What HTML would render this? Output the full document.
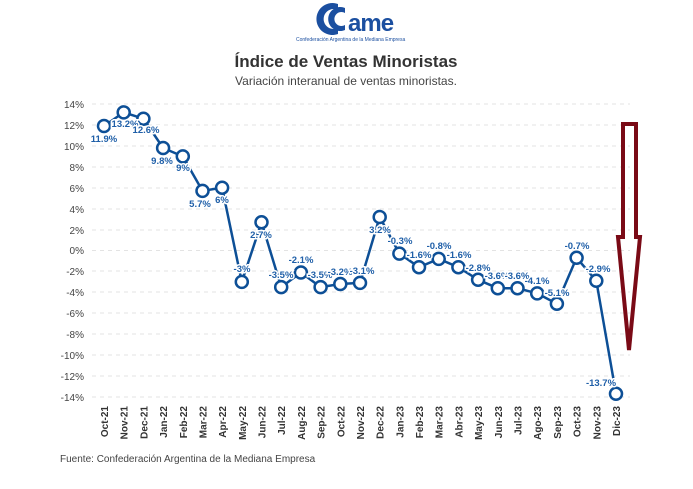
<!DOCTYPE html>
<html><head><meta charset="utf-8"><style>
body{margin:0;background:#fff;width:693px;height:484px;overflow:hidden;font-family:"Liberation Sans",sans-serif}
svg text{font-family:"Liberation Sans",sans-serif}
</style></head><body>
<svg width="693" height="484" viewBox="0 0 693 484" xmlns="http://www.w3.org/2000/svg">
<!-- logo -->
<g fill="#1b4fa0">
<path d="M338,4 a16,16 0 1 0 0,30 l0,-6 a10,10 0 1 1 0,-18 z"/>
<path d="M345,8 a12,12 0 1 0 0,22 l0,-5 a7,7 0 1 1 0,-12 z"/>
<text x="348" y="31" font-size="24" font-weight="bold" letter-spacing="-1">ame</text>
<text x="296" y="41" font-size="5">Confederación Argentina de la Mediana Empresa</text>
</g>
<text x="346" y="67" text-anchor="middle" font-size="17" font-weight="bold" fill="#333">Índice de Ventas Minoristas</text>
<text x="346" y="85" text-anchor="middle" font-size="12" fill="#444">Variación interanual de ventas minoristas.</text>
<!-- grid -->
<g stroke="#e3e3e3" stroke-dasharray="4,4">
<line x1="92" x2="630" y1="104" y2="104"/><line x1="92" x2="630" y1="125" y2="125"/><line x1="92" x2="630" y1="146" y2="146"/><line x1="92" x2="630" y1="167" y2="167"/><line x1="92" x2="630" y1="188" y2="188"/><line x1="92" x2="630" y1="209" y2="209"/><line x1="92" x2="630" y1="230" y2="230"/><line x1="92" x2="630" y1="250.5" y2="250.5"/><line x1="92" x2="630" y1="271" y2="271"/><line x1="92" x2="630" y1="292" y2="292"/><line x1="92" x2="630" y1="313" y2="313"/><line x1="92" x2="630" y1="334" y2="334"/><line x1="92" x2="630" y1="355" y2="355"/><line x1="92" x2="630" y1="376" y2="376"/><line x1="92" x2="630" y1="397" y2="397"/>
</g>
<g font-size="10" fill="#444" text-anchor="end">
<text x="84" y="108">14%</text><text x="84" y="129">12%</text><text x="84" y="150">10%</text><text x="84" y="171">8%</text><text x="84" y="192">6%</text><text x="84" y="213">4%</text><text x="84" y="234">2%</text><text x="84" y="254">0%</text><text x="84" y="275">-2%</text><text x="84" y="296">-4%</text><text x="84" y="317">-6%</text><text x="84" y="338">-8%</text><text x="84" y="359">-10%</text><text x="84" y="380">-12%</text><text x="84" y="401">-14%</text>
</g>
<g font-size="10" font-weight="bold" fill="#333" text-anchor="end">
<text transform="translate(108,406) rotate(-90)">Oct-21</text>
<text transform="translate(127.7,406) rotate(-90)">Nov-21</text>
<text transform="translate(147.4,406) rotate(-90)">Dec-21</text>
<text transform="translate(167.1,406) rotate(-90)">Jan-22</text>
<text transform="translate(186.8,406) rotate(-90)">Feb-22</text>
<text transform="translate(206.5,406) rotate(-90)">Mar-22</text>
<text transform="translate(226.1,406) rotate(-90)">Apr-22</text>
<text transform="translate(245.8,406) rotate(-90)">May-22</text>
<text transform="translate(265.5,406) rotate(-90)">Jun-22</text>
<text transform="translate(285.2,406) rotate(-90)">Jul-22</text>
<text transform="translate(304.9,406) rotate(-90)">Aug-22</text>
<text transform="translate(324.6,406) rotate(-90)">Sep-22</text>
<text transform="translate(344.3,406) rotate(-90)">Oct-22</text>
<text transform="translate(364,406) rotate(-90)">Nov-22</text>
<text transform="translate(383.7,406) rotate(-90)">Dec-22</text>
<text transform="translate(403.4,406) rotate(-90)">Jan-23</text>
<text transform="translate(423,406) rotate(-90)">Feb-23</text>
<text transform="translate(442.7,406) rotate(-90)">Mar-23</text>
<text transform="translate(462.4,406) rotate(-90)">Abr-23</text>
<text transform="translate(482.1,406) rotate(-90)">May-23</text>
<text transform="translate(501.8,406) rotate(-90)">Jun-23</text>
<text transform="translate(521.5,406) rotate(-90)">Jul-23</text>
<text transform="translate(541.2,406) rotate(-90)">Ago-23</text>
<text transform="translate(560.9,406) rotate(-90)">Sep-23</text>
<text transform="translate(580.6,406) rotate(-90)">Oct-23</text>
<text transform="translate(600.3,406) rotate(-90)">Nov-23</text>
<text transform="translate(620,406) rotate(-90)">Dic-23</text>
</g>
<polyline fill="none" stroke="#0d4f96" stroke-width="2.5" stroke-linejoin="round" points="104,126 123.7,112.4 143.4,118.7 163.1,148 182.8,156.4 202.5,190.9 222.1,187.7 241.8,281.9 261.5,222.3 281.2,287.1 300.9,272.5 320.6,287.1 340.3,284 360,282.9 379.7,217 399.4,253.6 419,267.2 438.7,258.9 458.4,267.2 478.1,279.8 497.8,288.2 517.5,288.2 537.2,293.4 556.9,303.8 576.6,257.8 596.3,280.8 616,393.8"/>
<g fill="#fff" stroke="#0d4f96" stroke-width="2.5">
<circle cx="104" cy="126" r="6"/><circle cx="123.7" cy="112.4" r="6"/><circle cx="143.4" cy="118.7" r="6"/><circle cx="163.1" cy="148" r="6"/><circle cx="182.8" cy="156.4" r="6"/><circle cx="202.5" cy="190.9" r="6"/><circle cx="222.1" cy="187.7" r="6"/><circle cx="241.8" cy="281.9" r="6"/><circle cx="261.5" cy="222.3" r="6"/><circle cx="281.2" cy="287.1" r="6"/><circle cx="300.9" cy="272.5" r="6"/><circle cx="320.6" cy="287.1" r="6"/><circle cx="340.3" cy="284" r="6"/><circle cx="360" cy="282.9" r="6"/><circle cx="379.7" cy="217" r="6"/><circle cx="399.4" cy="253.6" r="6"/><circle cx="419" cy="267.2" r="6"/><circle cx="438.7" cy="258.9" r="6"/><circle cx="458.4" cy="267.2" r="6"/><circle cx="478.1" cy="279.8" r="6"/><circle cx="497.8" cy="288.2" r="6"/><circle cx="517.5" cy="288.2" r="6"/><circle cx="537.2" cy="293.4" r="6"/><circle cx="556.9" cy="303.8" r="6"/><circle cx="576.6" cy="257.8" r="6"/><circle cx="596.3" cy="280.8" r="6"/><circle cx="616" cy="393.8" r="6"/>
</g>
<g font-size="9.5" font-weight="bold" fill="#1f5fa8" text-anchor="middle" stroke="#fff" stroke-width="3" paint-order="stroke">
<text x="104" y="142">11.9%</text><text x="125" y="127">13.2%</text><text x="146" y="133">12.6%</text><text x="162" y="164">9.8%</text><text x="183" y="171">9%</text><text x="200" y="207">5.7%</text><text x="222" y="203">6%</text><text x="242" y="272">-3%</text><text x="261" y="238">2.7%</text><text x="281" y="278">-3.5%</text><text x="301" y="263">-2.1%</text><text x="320" y="278">-3.5%</text><text x="340" y="275">-3.2%</text><text x="362" y="274">-3.1%</text><text x="380" y="233">3.2%</text><text x="400" y="244">-0.3%</text><text x="419" y="258">-1.6%</text><text x="439" y="249">-0.8%</text><text x="459" y="258">-1.6%</text><text x="478" y="271">-2.8%</text><text x="497" y="279">-3.6%</text><text x="517" y="279">-3.6%</text><text x="537" y="284">-4.1%</text><text x="557" y="296">-5.1%</text><text x="577" y="249">-0.7%</text><text x="598" y="272">-2.9%</text><text x="601" y="386">-13.7%</text>
</g>
<!-- arrow -->
<polygon points="623,124 636,124 636,237 640,237 629,350 618,237 623,237" fill="none" stroke="#7a0a16" stroke-width="4" stroke-linejoin="miter"/>
<text x="60" y="462" font-size="10" fill="#444">Fuente: Confederación Argentina de la Mediana Empresa</text>
</svg>
</body></html>
